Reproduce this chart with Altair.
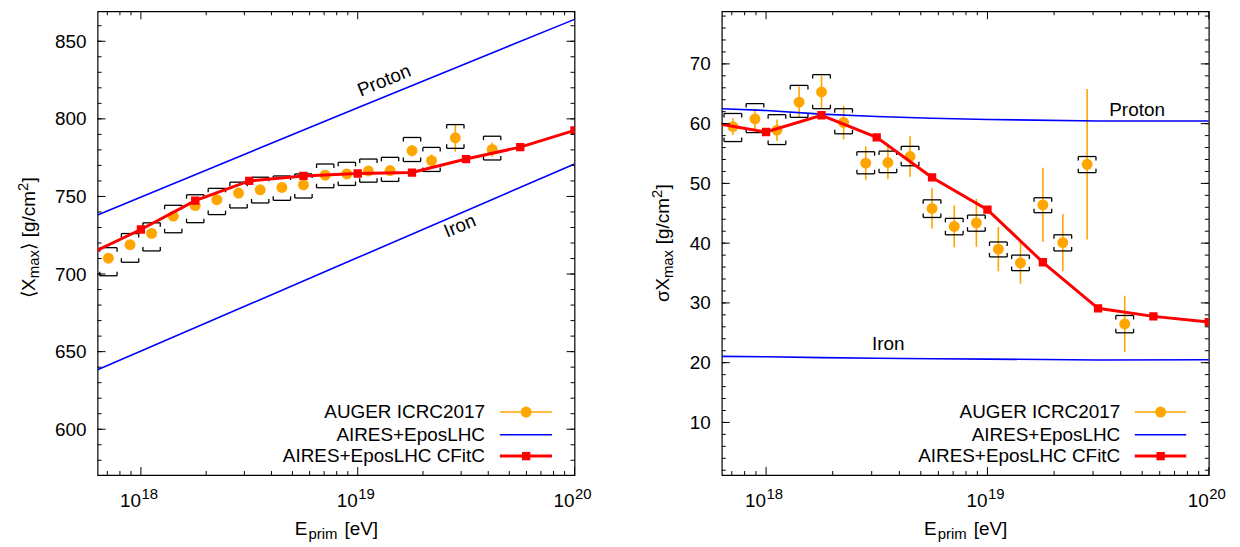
import altair as alt
import pandas as pd

FONT = "Liberation Sans"
ORANGE = "#FFA500"
BLUE = "#0000FF"
RED = "#FF0000"

# ---------------- data ----------------
auger_E = [7.08e17, 8.91e17, 1.12e18, 1.41e18, 1.78e18, 2.24e18, 2.82e18, 3.55e18, 4.47e18,
           5.62e18, 7.08e18, 8.91e18, 1.12e19, 1.41e19, 1.78e19, 2.19e19, 2.82e19, 4.17e19]
xmax_mean = [710.2, 718.9, 726.2, 737.3, 744.1, 747.9, 752.2, 754.3, 755.8,
             757.5, 763.7, 764.5, 766.4, 766.7, 779.5, 773.1, 787.8, 780.3]
xmax_stat = [1.0, 1.0, 1.0, 1.0, 1.0, 1.2, 1.3, 1.5, 1.7, 2.0, 2.2, 2.5, 2.5, 3.0, 3.7, 4.0, 9.0, 4.5]
xmax_sys_up = [6.8, 7.2, 6.8, 7.0, 7.0, 7.3, 7.0, 8.1, 7.4, 7.0, 7.2, 7.5, 7.7, 8.5, 8.5, 8.5, 8.5, 8.5]
xmax_sys_dn = [11.3, 11.3, 11.3, 10.7, 11.0, 9.6, 9.6, 8.5, 8.3, 8.5, 8.1, 7.4, 7.2, 7.0, 7.0, 7.0, 6.8, 6.8]

sigma_mean = [59.5, 60.8, 58.9, 63.6, 65.3, 60.2, 53.4, 53.5, 54.5,
              45.8, 42.8, 43.4, 39.0, 36.7, 46.4, 40.1, 53.2, 26.5]
sigma_stat = [1.4, 1.7, 1.8, 2.6, 2.7, 2.8, 2.8, 2.8, 3.4, 3.4, 3.5, 4.0, 3.7, 3.5, 6.2, 4.8, 12.6, 4.7]
sigma_sys_up = [2.2, 2.55, 2.6, 2.8, 2.9, 2.3, 1.9, 1.9, 1.7, 1.45, 1.35, 1.3, 1.2, 1.3, 1.2, 1.3, 1.3, 1.4]
sigma_sys_dn = [2.5, 2.3, 2.4, 2.55, 2.8, 1.9, 1.8, 1.7, 1.55, 1.5, 1.4, 1.4, 1.3, 1.3, 1.3, 1.4, 1.4, 1.5]

cfitc_E = [5.62e17, 1.0e18, 1.78e18, 3.16e18, 5.62e18, 1.0e19, 1.78e19, 3.16e19, 5.62e19, 1.0e20]
cfitc_xmax = [712.1, 728.7, 747.3, 760.0, 763.2, 764.8, 765.4, 774.1, 781.8, 792.6]
cfitc_sigma = [60.2, 58.6, 61.4, 57.7, 51.0, 45.6, 36.8, 29.1, 27.75, 26.8]

sim_E_left = [6.31e17, 1.0e19, 1.0e20]
proton_xmax = [738.1, 807.2, 864.1]
iron_xmax = [638.4, 710.6, 770.9]

sim_E_right = [6.31e17, 1.0e18, 1.78e18, 3.16e18, 5.62e18, 1.0e19, 3.16e19, 1.0e20]
proton_sigma = [62.5, 62.2, 61.6, 61.2, 60.9, 60.7, 60.45, 60.45]
iron_sigma = [21.05, 21.0, 20.85, 20.75, 20.65, 20.6, 20.45, 20.5]

legend_labels = ["AUGER ICRC2017", "AIRES+EposLHC", "AIRES+EposLHC CFitC"]
decade_ticks = [1e18, 1e19, 1e20]
decade_exp = ["18", "19", "20"]
minor_x_ticks = [7e17, 8e17, 9e17] + [k * 1e18 for k in range(2, 10)] + [k * 1e19 for k in range(2, 10)]

left_major_y = [600, 650, 700, 750, 800, 850]
left_minor_y = list(range(580, 870, 10))
right_major_y = [10, 20, 30, 40, 50, 60, 70]
right_minor_y = list(range(2, 80, 2))

H = 466
ONE = pd.DataFrame({"a": [0]})
BR = 0.04  # half width of systematic brackets, in decades


def txt(text, x, y, size=19, align="left", angle=0, baseline="alphabetic"):
    return alt.Chart(ONE).mark_text(
        text=text, font=FONT, fontSize=size, align=align, angle=angle,
        baseline=baseline, color="black"
    ).encode(x=alt.value(x), y=alt.value(y))


def panel(W, ydom, major_y, minor_y, mean, stat, sup, sdn, cf, simE, prot, iron,
          lab_prot, lab_iron, leg, title_pieces):
    xs = alt.Scale(type="log", domain=[10 ** 17.8, 1e20], nice=False)
    ys = alt.Scale(domain=ydom, nice=False, zero=False)
    yaxis = alt.Axis(values=major_y, format="d", ticks=False, domain=False, grid=False,
                     title=None, labelFont=FONT, labelFontSize=19, labelColor="black",
                     labelPadding=11.5)

    def X(f):
        return alt.X(f, type="quantitative", scale=xs, axis=None)

    def Y(f):
        return alt.Y(f, type="quantitative", scale=ys, axis=yaxis)

    df = pd.DataFrame({"E": auger_E, "v": mean, "stat": stat, "up": sup, "dn": sdn})
    df["lo"] = df.v - df.stat
    df["hi"] = df.v + df.stat
    df["top"] = df.v + df.up
    df["bot"] = df.v - df.dn
    df["El"] = df.E * 10 ** (-BR)
    df["Eh"] = df.E * 10 ** BR
    ends = pd.DataFrame({"Ex": list(df.El) + list(df.Eh),
                         "top": list(df.top) * 2, "bot": list(df.bot) * 2})

    layers = []
    # main data layer first (carries the y axis)
    layers.append(alt.Chart(df).mark_rule(color=ORANGE, strokeWidth=1.6).encode(
        x=X("E"), y=Y("lo"), y2="hi"))
    layers.append(alt.Chart(ONE).mark_rule(color="white").encode(
        x=alt.value(-88), y=alt.value(0), y2=alt.value(1)))
    # brackets
    layers.append(alt.Chart(df).mark_rule(color="black", strokeWidth=1.3).encode(
        x=X("El"), x2="Eh", y=Y("top")))
    layers.append(alt.Chart(df).mark_rule(color="black", strokeWidth=1.3).encode(
        x=X("El"), x2="Eh", y=Y("bot")))
    layers.append(alt.Chart(ends).mark_tick(orient="vertical", size=4, thickness=1.3,
                                            color="black", yOffset=2, opacity=1).encode(
        x=X("Ex"), y=Y("top")))
    layers.append(alt.Chart(ends).mark_tick(orient="vertical", size=4, thickness=1.3,
                                            color="black", yOffset=-2, opacity=1).encode(
        x=X("Ex"), y=Y("bot")))
    layers.append(alt.Chart(df).mark_circle(size=120, color=ORANGE, opacity=1).encode(
        x=X("E"), y=Y("v")))
    # simulations
    sim = pd.DataFrame({"E": simE * 2, "v": prot + iron,
                        "s": ["p"] * len(simE) + ["fe"] * len(simE)})
    layers.append(alt.Chart(sim).mark_line(color=BLUE, strokeWidth=1.6, clip=True).encode(
        x=X("E"), y=Y("v"), detail="s:N"))
    cfd = pd.DataFrame({"E": cfitc_E, "v": cf})
    layers.append(alt.Chart(cfd).mark_line(color=RED, strokeWidth=3, clip=True).encode(
        x=X("E"), y=Y("v")))
    layers.append(alt.Chart(cfd).mark_square(size=70, color=RED, opacity=1, clip=True).encode(
        x=X("E"), y=Y("v")))
    # Proton / Iron labels
    for (lE, lv, ltext, lang) in (lab_prot, lab_iron):
        ld = pd.DataFrame({"E": [lE], "v": [lv]})
        layers.append(alt.Chart(ld).mark_text(text=ltext, font=FONT, fontSize=19, angle=lang,
                                              align="center", baseline="middle",
                                              color="black").encode(x=X("E"), y=Y("v")))
    # inward ticks on all four sides
    ymaj = pd.DataFrame({"t": major_y})
    ymin = pd.DataFrame({"t": minor_y})
    xmaj = pd.DataFrame({"t": decade_ticks})
    xmin = pd.DataFrame({"t": minor_x_ticks})
    for d, L in ((ymaj, 8), (ymin, 4)):
        layers.append(alt.Chart(d).mark_rule(color="black", strokeWidth=1).encode(
            y=Y("t"), x=alt.value(0), x2=alt.value(L)))
        layers.append(alt.Chart(d).mark_rule(color="black", strokeWidth=1).encode(
            y=Y("t"), x=alt.value(W), x2=alt.value(W - L)))
    for d, L in ((xmaj, 8), (xmin, 4)):
        layers.append(alt.Chart(d).mark_rule(color="black", strokeWidth=1).encode(
            x=X("t"), y=alt.value(H), y2=alt.value(H - L)))
        layers.append(alt.Chart(d).mark_rule(color="black", strokeWidth=1).encode(
            x=X("t"), y=alt.value(0), y2=alt.value(L)))
    # x tick labels 10^n
    dl = pd.DataFrame({"t": decade_ticks, "e": decade_exp})
    layers.append(alt.Chart(dl).mark_text(text="10", font=FONT, fontSize=19, align="right",
                                          baseline="alphabetic", color="black").encode(
        x=X("t"), y=alt.value(H + 31.7)))
    layers.append(alt.Chart(dl).mark_text(font=FONT, fontSize=15, align="left", dx=0.5,
                                          baseline="alphabetic", color="black").encode(
        x=X("t"), y=alt.value(H + 23.7), text="e:N"))
    # x title E_prim [eV]
    c = W / 2
    layers.append(txt("E", c - 41.4, H + 60))
    layers.append(txt("prim", c - 27.8, H + 64, size=15))
    layers.append(txt("[eV]", c + 8.5, H + 60))
    # y title pieces (rotated)
    for (t, x, y, s) in title_pieces:
        layers.append(txt(t, x, y, size=s, angle=270))
    # legend
    tx, l0, l1, mx = leg
    rows = [402.7, 425.5, 447.0]
    for lab, ry in zip(legend_labels, rows):
        layers.append(txt(lab, tx, ry, align="right", baseline="middle"))
    layers.append(alt.Chart(ONE).mark_rule(color=ORANGE, strokeWidth=1.6).encode(
        x=alt.value(l0), x2=alt.value(l1), y=alt.value(rows[0])))
    layers.append(alt.Chart(ONE).mark_circle(size=120, color=ORANGE, opacity=1).encode(
        x=alt.value(mx), y=alt.value(rows[0])))
    layers.append(alt.Chart(ONE).mark_rule(color=BLUE, strokeWidth=1.6).encode(
        x=alt.value(l0), x2=alt.value(l1), y=alt.value(rows[1])))
    layers.append(alt.Chart(ONE).mark_rule(color=RED, strokeWidth=3).encode(
        x=alt.value(l0), x2=alt.value(l1), y=alt.value(rows[2])))
    layers.append(alt.Chart(ONE).mark_square(size=70, color=RED, opacity=1).encode(
        x=alt.value(mx), y=alt.value(rows[2])))

    return alt.layer(*layers).properties(width=W, height=H)


# y title pieces: (text, x, y-start, size); text runs upward
left_title = [
    ("⟨", -62.7, 288.0, 19),
    ("X", -62.7, 281.0, 19),
    ("max", -58.7, 268.3, 15),
    ("⟩", -62.7, 239.6, 19),
    ("[g/cm", -62.7, 227.0, 19),
    ("2", -69.7, 180.5, 15),
    ("]", -62.7, 172.0, 19),
]
right_title = [
    ("σX", -53.0, 292.2, 19),
    ("max", -49.0, 268.1, 15),
    ("[g/cm", -53.0, 234.1, 19),
    ("2", -60.0, 187.6, 15),
    ("]", -53.0, 179.1, 19),
]

WL = 479.3
WR = 489.4
left = panel(WL, [570.5, 869.3], left_major_y, left_minor_y, xmax_mean, xmax_stat,
             xmax_sys_up, xmax_sys_dn, cfitc_xmax, sim_E_left, proton_xmax, iron_xmax,
             (10 ** 19.122, 824.6, "Proton", 337.6), (10 ** 19.471, 731.0, "Iron", 337.6),
             (389.3, 404.3, 456.6, 430.7), left_title)
right = panel(WR, [1.2, 78.8], right_major_y, right_minor_y, sigma_mean, sigma_stat,
              sigma_sys_up, sigma_sys_dn, cfitc_sigma, sim_E_right, proton_sigma, iron_sigma,
              (10 ** 19.676, 62.3, "Proton", 0), (10 ** 18.552, 23.2, "Iron", 0),
              (400.4, 415.0, 466.7, 441.0), right_title)

chart = alt.hconcat(left, right, spacing=147.3, bounds="flush").properties(
    padding={"left": 0, "top": 0, "right": 5, "bottom": 0},
    background="white",
).configure_view(stroke="black", strokeWidth=1.2)

chart.save("out.html", embed_options={"renderer": "svg", "actions": False})
